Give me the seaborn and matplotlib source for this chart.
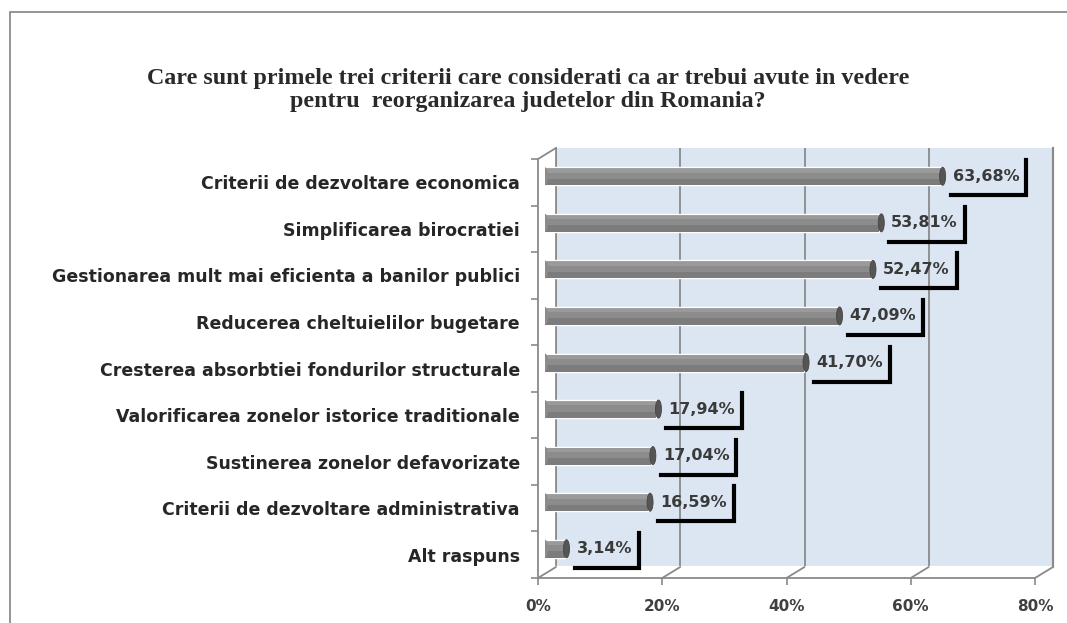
import matplotlib
matplotlib.use('Agg')
import matplotlib.pyplot as plt
import seaborn as sns
import pandas as pd
from matplotlib.patches import Ellipse, Rectangle, Polygon

# data
criteria = [
    'Criterii de dezvoltare economica',
    'Simplificarea birocratiei',
    'Gestionarea mult mai eficienta a banilor publici',
    'Reducerea cheltuielilor bugetare',
    'Cresterea absorbtiei fondurilor structurale',
    'Valorificarea zonelor istorice traditionale',
    'Sustinerea zonelor defavorizate',
    'Criterii de dezvoltare administrativa',
    'Alt raspuns',
]
values = [63.68, 53.81, 52.47, 47.09, 41.70, 17.94, 17.04, 16.59, 3.14]
x_ticks = [0, 20, 40, 60, 80]
title_lines = [
    'Care sunt primele trei criterii care considerati ca ar trebui avute in vedere',
    'pentru  reorganizarea judetelor din Romania?',
]

df = pd.DataFrame({'criteriu': criteria, 'procent': values})

sns.set_theme(style='white')
plt.rcParams['font.family'] = ['DejaVu Sans']

W, H = 1067, 623
fig = plt.figure(figsize=(W / 100, H / 100), dpi=100)

# plot box of the front axis, in pixels
left, right, top, bottom = 538, 1035, 159, 578
depth_x, depth_y = 18, 11
ppx = (right - left) / 80
ppy = (bottom - top) / len(criteria)
ddx = depth_x / ppx
ddy = depth_y / ppy
grey = '#8a8a8a'


def make_axes(dx, dy):
    return fig.add_axes([(left + dx) / W, (H - bottom + dy) / H,
                         (right - left) / W, (bottom - top) / H])


def same_limits(a):
    a.set_xlim(0, 80)
    a.set_ylim(len(criteria) - 0.5, -0.5)


# outer frame of the chart
fig.patches.append(Rectangle((10 / W, -0.1), 1.2, 1 - 12 / H + 0.1,
                             transform=fig.transFigure, fill=False,
                             edgecolor='#8c8c8c', lw=1.3))

# back wall
wall = make_axes(depth_x, depth_y)
same_limits(wall)
wall.set_facecolor('#dce6f2')
wall.set_xticks(x_ticks)
wall.set_yticks([])
wall.tick_params(length=0, labelbottom=False, labelleft=False)
wall.grid(axis='x', color=grey, lw=1.3)
wall.spines['top'].set_visible(False)
wall.spines['bottom'].set_color('white')
wall.spines['bottom'].set_linewidth(1.5)
wall.spines['left'].set_color(grey)
wall.spines['right'].set_color(grey)
wall.spines['right'].set_linewidth(1.5)
wall.set_zorder(0)

# front axis with ticks and labels
ax = make_axes(0, 0)
same_limits(ax)
ax.patch.set_alpha(0)
ax.set_zorder(1)
for s in ['top', 'right']:
    ax.spines[s].set_visible(False)
for s in ['left', 'bottom']:
    ax.spines[s].set_color(grey)
    ax.spines[s].set_linewidth(1.3)
ax.set_xticks(x_ticks)
ax.set_xticklabels([f'{t}%' for t in x_ticks], fontsize=11, fontweight='bold',
                   color='#404040')
ax.set_yticks(range(len(criteria)))
ax.set_yticklabels(criteria, fontsize=12.5, fontweight='bold', color='#262626')
ax.set_yticks([i - 0.5 for i in range(len(criteria) + 1)], minor=True)
ax.tick_params(axis='y', which='major', length=0, pad=13)
ax.tick_params(axis='y', which='minor', length=5, color=grey, width=1.2,
               direction='out', left=True)
ax.tick_params(axis='x', length=5, color=grey, width=1.2, direction='out',
               bottom=True, pad=10)

# floor and left side of the box
n = len(criteria)
ax.add_patch(Polygon([(0, n - 0.5), (80, n - 0.5), (80 + ddx, n - 0.5 - ddy),
                      (ddx, n - 0.5 - ddy)], closed=True, facecolor='white',
                     edgecolor='none', clip_on=False, zorder=0))
for t in x_ticks:
    ax.plot([t, t + ddx], [n - 0.5, n - 0.5 - ddy], color=grey, lw=1.3,
            clip_on=False)
ax.plot([0, ddx], [-0.5, -0.5 - ddy], color=grey, lw=1.3, clip_on=False)
ax.plot([80 + ddx, 80 + ddx], [-0.5 - ddy, n - 0.5 - ddy], color=grey, lw=1.5,
        clip_on=False)

# bars sit half way into the depth
bax = make_axes(depth_x / 2 - 2, depth_y / 2 + 0.5)
bax.set_zorder(2)
bar_h = 18 / ppy
sns.barplot(data=df, y='criteriu', x='procent', orient='h', color='#8c8c8c',
            width=bar_h, saturation=1, ax=bax)
ypos = list(range(n))
bax.barh([y - bar_h * 0.3 for y in ypos], values, height=bar_h * 0.2,
         color='#9a9a9a', lw=0)
bax.barh([y + bar_h * 0.32 for y in ypos], values, height=bar_h * 0.36,
         color='#7c7c7c', lw=0)
same_limits(bax)
bax.axis('off')
cap_w = 6 / ppx
for y, v in zip(ypos, values):
    bax.add_patch(Ellipse((0, y), cap_w, bar_h, facecolor='#8c8c8c',
                          edgecolor='none', zorder=1.5))
    bax.add_patch(Ellipse((v + 2 / ppx, y), cap_w, bar_h, facecolor='#555555',
                          edgecolor='#444444', lw=0.6, zorder=3))

# value labels with the black corner lines
texts = []
for y, v in zip(ypos, values):
    lab = f'{v:.2f}'.replace('.', ',') + '%'
    t = bax.text(v + 12 / ppx, y, lab, ha='left', va='center', fontsize=11.5,
                 fontweight='bold', color='#3a3a3a', zorder=4)
    texts.append(t)

fig.canvas.draw()
renderer = fig.canvas.get_renderer()
for y, v, t in zip(ypos, values, texts):
    w = t.get_window_extent(renderer).width
    x0 = v + 10 / ppx
    x1 = v + (12 + w + 7) / ppx
    y_b = y + 19 / ppy
    y_t = y - 16 / ppy
    bax.plot([x0, x1, x1], [y_b, y_b, y_t], color='black', lw=3,
             solid_joinstyle='miter', solid_capstyle='projecting',
             clip_on=False, zorder=4)

# title
fig.text(528 / W, 1 - 90 / H, '\n'.join(title_lines), ha='center', va='center',
         family='Liberation Serif', fontweight='bold', fontsize=17.3,
         color='#2a2a2a', linespacing=1.18)

fig.savefig('out.png', dpi=100)
